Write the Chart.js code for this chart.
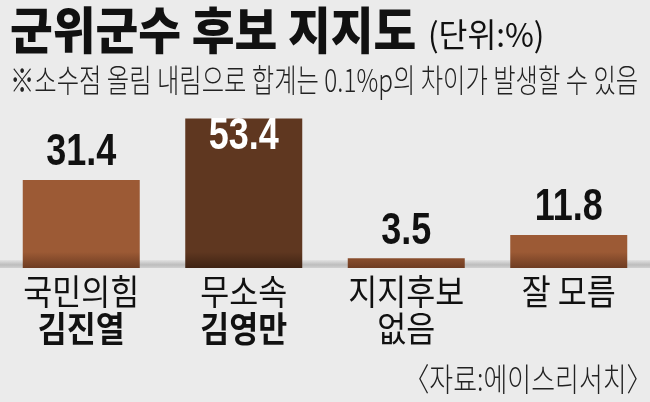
<!DOCTYPE html>
<html>
<head>
<meta charset="utf-8">
<script src="https://cdn.jsdelivr.net/npm/chart.js@4.4.0/dist/chart.umd.min.js"></script>
<style>
html, body { margin: 0; padding: 0; background: #ebebeb; }
#wrap { position: relative; width: 650px; height: 402px; overflow: hidden; background: #ebebeb; font-family: "Noto Sans CJK KR", sans-serif; color: #111; }
#chart { position: absolute; left: 0; top: 0; }
.txt { position: absolute; white-space: nowrap; line-height: 1; }
#title { left: 10px; top: 2px; font-size: 50px; font-weight: 900; letter-spacing: 0px; transform-origin: left top; transform: scaleX(0.93); }
#unit { left: 428px; top: 17px; font-size: 33px; font-weight: 400; transform-origin: left top; transform: scaleX(0.95); }
#note { left: 10px; top: 62px; font-size: 32px; font-weight: 300; transform-origin: left top; transform: scaleX(0.76); color: #222; }
#source { right: -3px; top: 361px; font-size: 32px; font-weight: 300; transform-origin: right top; transform: scaleX(0.81); color: #222; }
</style>
</head>
<body>
<div id="wrap">
<canvas id="chart" width="650" height="402"></canvas>
<div class="txt" id="title">군위군수 후보 지지도</div>
<div class="txt" id="unit">(단위:%)</div>
<div class="txt" id="note">※소수점 올림 내림으로 합계는 0.1%p의 차이가 발생할 수 있음</div>
<div class="txt" id="source">〈자료:에이스리서치〉</div>
</div>
<script>
// 데이터
var categories = [['국민의힘', '김진열'], ['무소속', '김영만'], ['지지후보', '없음'], ['잘 모름']];
var values = [31.4, 53.4, 3.5, 11.8];
var barColors = ['#9c5a35', '#5f3720', '#9c5a35', '#9c5a35'];
var barShade = ['#6e3c22', '#3f2313', '#6e3c22', '#6e3c22'];

function drawNarrow(ctx, text, x, y, font, color, sx) {
    ctx.save();
    ctx.font = font;
    ctx.fillStyle = color;
    ctx.textAlign = 'center';
    ctx.textBaseline = 'middle';
    ctx.translate(x, y);
    ctx.scale(sx, 1);
    ctx.fillText(text, 0, 0);
    ctx.restore();
}

// 바닥 회색 띠
var baseStrip = {
    id: 'baseStrip',
    beforeDatasetsDraw: function(chart) {
        var ctx = chart.ctx;
        var a = chart.chartArea;
        var g = ctx.createLinearGradient(0, a.bottom - 8, 0, a.bottom);
        g.addColorStop(0, '#e2e2e2');
        g.addColorStop(0.6, '#bdbdbd');
        g.addColorStop(1, '#d0d0d0');
        ctx.save();
        ctx.fillStyle = g;
        ctx.fillRect(0, a.bottom - 8, chart.width, 8);
        ctx.restore();
    }
};

// 값 라벨 + 항목 라벨
var labelsPlugin = {
    id: 'labelsPlugin',
    afterDatasetsDraw: function(chart) {
        var ctx = chart.ctx;
        var meta = chart.getDatasetMeta(0);
        meta.data.forEach(function(bar, i) {
            var txt = values[i].toFixed(1);
            if (i === 1) {
                drawNarrow(ctx, txt, bar.x, bar.y + 18, 'bold 45px "Liberation Sans"', '#ffffff', 0.8);
            } else {
                drawNarrow(ctx, txt, bar.x, bar.y - 27, 'bold 45px "Liberation Sans"', '#111111', 0.8);
            }
        });
        var xScale = chart.scales.x;
        categories.forEach(function(lines, i) {
            var x = xScale.getPixelForValue(i);
            drawNarrow(ctx, lines[0], x, 292, '400 35px "Noto Sans CJK KR"', '#111111', 0.9);
            if (lines[1]) {
                var w = i < 2 ? '700' : '400';
                drawNarrow(ctx, lines[1], x, 329, w + ' 35px "Noto Sans CJK KR"', '#111111', 0.9);
            }
        });
    }
};

var ctx = document.getElementById('chart').getContext('2d');
var myChart = new Chart(ctx, {
    type: 'bar',
    data: {
        labels: categories,
        datasets: [{
            data: values,
            backgroundColor: function(c) {
                var chart = c.chart;
                var a = chart.chartArea;
                var i = c.dataIndex;
                if (!a) return barColors[i];
                var g = chart.ctx.createLinearGradient(0, a.bottom - 16, 0, a.bottom);
                g.addColorStop(0, barColors[i]);
                g.addColorStop(1, barShade[i]);
                return g;
            },
            borderWidth: 0,
            barPercentage: 0.72,
            categoryPercentage: 1.0
        }]
    },
    options: {
        responsive: false,
        animation: false,
        layout: { padding: { top: 107, bottom: 134, left: 0, right: 0 } },
        plugins: { legend: { display: false }, tooltip: { enabled: false } },
        scales: {
            x: { display: false },
            y: { display: false, min: 0, max: 57.5 }
        }
    },
    plugins: [baseStrip, labelsPlugin]
});
</script>
</body>
</html>
